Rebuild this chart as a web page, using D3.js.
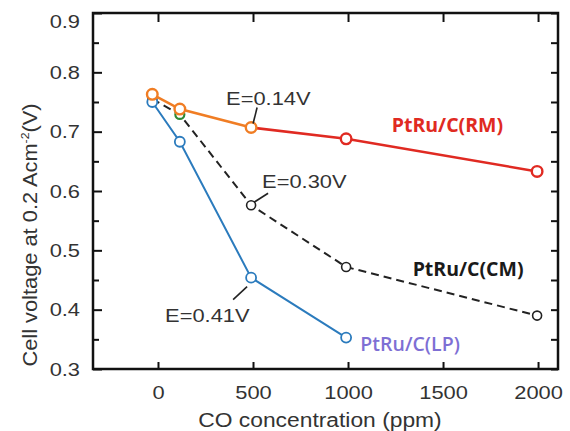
<!DOCTYPE html>
<html>
<head>
<meta charset="utf-8">
<script src="https://cdn.jsdelivr.net/npm/d3@7"></script>
<style>
  body { margin: 0; background: #fff; }
  svg { display: block; }
  .tick text { font-family: "Liberation Sans", Arial, sans-serif; font-size: 19px; fill: #333; }
  .tick line { stroke: #111; stroke-width: 2; }
</style>
</head>
<body>
<svg id="chart" width="570" height="431"></svg>
<script>
// data
let coPpm = [-30, 115, 490, 990, 1995]
let rmVolts = [0.763, 0.738, 0.707, 0.688, 0.633]
let cmVolts = [0.755, 0.729, 0.576, 0.472, 0.390]
let lpVolts = [0.750, 0.683, 0.454, 0.353]
let xTickValues = [0, 500, 1000, 1500, 2000]
let yTickValues = [0.3, 0.4, 0.5, 0.6, 0.7, 0.8, 0.9]
let yMinorValues = [0.35, 0.45, 0.55, 0.65, 0.75, 0.85]
let annotations = [
  {text: 'E=0.14V', series: 'rm', index: 2},
  {text: 'E=0.30V', series: 'cm', index: 2},
  {text: 'E=0.41V', series: 'lp', index: 2}
]

let margin = {top: 13, right: 12, bottom: 62, left: 93}
let width = 570 - margin.left - margin.right
let height = 431 - margin.top - margin.bottom
let stretchK = 1.15 // the glyphs in the picture are wider than Arial

function stretch(sel, k) {
  sel.each(function() {
    let w = this.getComputedTextLength()
    d3.select(this).attr('textLength', w * k).attr('lengthAdjust', 'spacingAndGlyphs')
  })
}

let svg = d3.select('#chart')
let g = svg.append('g').attr('transform', 'translate(' + margin.left + ',' + margin.top + ')')

let x = d3.scaleLinear().domain([-342, 2105]).range([0, width])
let y = d3.scaleLinear().domain([0.3, 0.9]).range([height, 0])

// axes, ticks pointing inward
let leftMinorAxis = g.append('g').call(d3.axisLeft(y).tickValues(yMinorValues).tickSize(-6).tickFormat(''))
let leftMajorAxis = g.append('g').call(d3.axisLeft(y).tickValues(yTickValues).tickSize(-9).tickPadding(13).tickFormat(d3.format('.1f')))
leftMajorAxis.selectAll('text').filter(d => d === 0.9).attr('dy', '0.78em')
let rightAxis = g.append('g').attr('transform', 'translate(' + width + ',0)')
  .call(d3.axisRight(y).tickValues(yMinorValues.concat(yTickValues)).tickSize(-7).tickFormat(''))
let topAxis = g.append('g').call(d3.axisTop(x).tickValues(xTickValues).tickSize(-9).tickFormat(''))
let bottomAxis = g.append('g').attr('transform', 'translate(0,' + height + ')')
  .call(d3.axisBottom(x).tickValues(xTickValues).tickSize(-7).tickPadding(17).tickFormat(d3.format('d')))

;[leftMinorAxis, leftMajorAxis, rightAxis, topAxis, bottomAxis].forEach(a => a.select('.domain').remove())
stretch(leftMajorAxis.selectAll('text'), stretchK)
stretch(bottomAxis.selectAll('text'), stretchK)

g.append('rect')
  .attr('width', width)
  .attr('height', height)
  .attr('fill', 'none')
  .attr('stroke', '#111')
  .attr('stroke-width', 2.5)

let line = d3.line().x((d, i) => x(coPpm[i])).y(d => y(d))

// CM dashed
g.append('path')
  .datum(cmVolts)
  .attr('d', line)
  .attr('fill', 'none')
  .attr('stroke', '#222')
  .attr('stroke-width', 2)
  .attr('stroke-dasharray', '8,5')

g.selectAll('.cm-dot')
  .data(cmVolts)
  .enter().append('circle')
  .attr('class', 'cm-dot')
  .attr('cx', (d, i) => x(coPpm[i]))
  .attr('cy', d => y(d))
  .attr('r', 4.5)
  .attr('fill', '#fff')
  .attr('stroke', (d, i) => i === 1 ? '#2f8a35' : '#222')
  .attr('stroke-width', (d, i) => i === 1 ? 2.2 : 1.6)

// LP blue
g.append('path')
  .datum(lpVolts)
  .attr('d', line)
  .attr('fill', 'none')
  .attr('stroke', '#2b7bbd')
  .attr('stroke-width', 2)

g.selectAll('.lp-dot')
  .data(lpVolts)
  .enter().append('circle')
  .attr('class', 'lp-dot')
  .attr('cx', (d, i) => x(coPpm[i]))
  .attr('cy', d => y(d))
  .attr('r', 5)
  .attr('fill', '#fff')
  .attr('stroke', '#2b7bbd')
  .attr('stroke-width', 1.8)

// RM: orange up to 500 ppm, red after
let rmLine = d3.line().x(d => x(coPpm[d.i])).y(d => y(d.v))
let rmPts = rmVolts.map((v, i) => ({v: v, i: i}))
g.append('path')
  .datum(rmPts.slice(2))
  .attr('d', rmLine)
  .attr('fill', 'none')
  .attr('stroke', '#e02a22')
  .attr('stroke-width', 2.6)
g.append('path')
  .datum(rmPts.slice(0, 3))
  .attr('d', rmLine)
  .attr('fill', 'none')
  .attr('stroke', '#f07d24')
  .attr('stroke-width', 2.6)

g.selectAll('.rm-dot')
  .data(rmPts)
  .enter().append('circle')
  .attr('class', 'rm-dot')
  .attr('cx', d => x(coPpm[d.i]))
  .attr('cy', d => y(d.v))
  .attr('r', 5.3)
  .attr('fill', '#fff')
  .attr('stroke', d => d.i <= 2 ? '#f07d24' : '#e02a22')
  .attr('stroke-width', 2.4)

// E= annotations with leader lines
let seriesVals = {rm: rmVolts, cm: cmVolts, lp: lpVolts}
let annoOffsets = [
  {tx: -25, ty: -23, l: [6, -20, 2, -4]},
  {tx: 11, ty: -17, l: [17, -12, 3, -3]},
  {tx: -86, ty: 44, l: [-18, 22, -4, 9]}
]
annotations.forEach((a, k) => {
  let px = x(coPpm[a.index])
  let py = y(seriesVals[a.series][a.index])
  let o = annoOffsets[k]
  g.append('line')
    .attr('x1', px + o.l[0]).attr('y1', py + o.l[1])
    .attr('x2', px + o.l[2]).attr('y2', py + o.l[3])
    .attr('stroke', '#222')
    .attr('stroke-width', 1.6)
  let t = g.append('text')
    .attr('x', px + o.tx)
    .attr('y', py + o.ty)
    .style('font-family', '"Liberation Sans", Arial, sans-serif')
    .style('font-size', '19px')
    .attr('fill', '#333')
    .text(a.text)
  stretch(t, stretchK)
})

// series labels
let seriesLabels = [
  {text: 'PtRu/C(RM)', x: 1230, v: 0.70, color: '#e02a22', weight: 700},
  {text: 'PtRu/C(CM)', x: 1340, v: 0.456, color: '#1a1a1a', weight: 700},
  {text: 'PtRu/C(LP)', x: 1065, v: 0.331, color: '#7e6fd4', weight: 600}
]
g.selectAll('.series-label')
  .data(seriesLabels)
  .enter().append('text')
  .attr('class', 'series-label')
  .attr('x', d => x(d.x))
  .attr('y', d => y(d.v))
  .attr('fill', d => d.color)
  .style('font-family', '"Open Sans", "Noto Sans", sans-serif')
  .style('font-weight', d => d.weight)
  .style('font-size', '19.5px')
  .text(d => d.text)

// axis titles
let xTitle = svg.append('text')
  .attr('x', 320)
  .attr('y', 427)
  .attr('text-anchor', 'middle')
  .style('font-family', '"Liberation Sans", Arial, sans-serif')
  .style('font-size', '19.5px')
  .attr('fill', '#333')
  .text('CO concentration (ppm)')
stretch(xTitle, 1.17)

let yTitle = svg.append('text')
  .attr('transform', 'translate(37,235) rotate(-90) scale(1.12,1)')
  .attr('text-anchor', 'middle')
  .style('font-family', '"Liberation Sans", Arial, sans-serif')
  .style('font-size', '19.5px')
  .attr('fill', '#333')
yTitle.append('tspan').text('Cell voltage at 0.2 Acm')
yTitle.append('tspan').attr('dy', -8).style('font-size', '11px').text('-2')
yTitle.append('tspan').attr('dy', 8).text('(V)')
</script>
</body>
</html>
